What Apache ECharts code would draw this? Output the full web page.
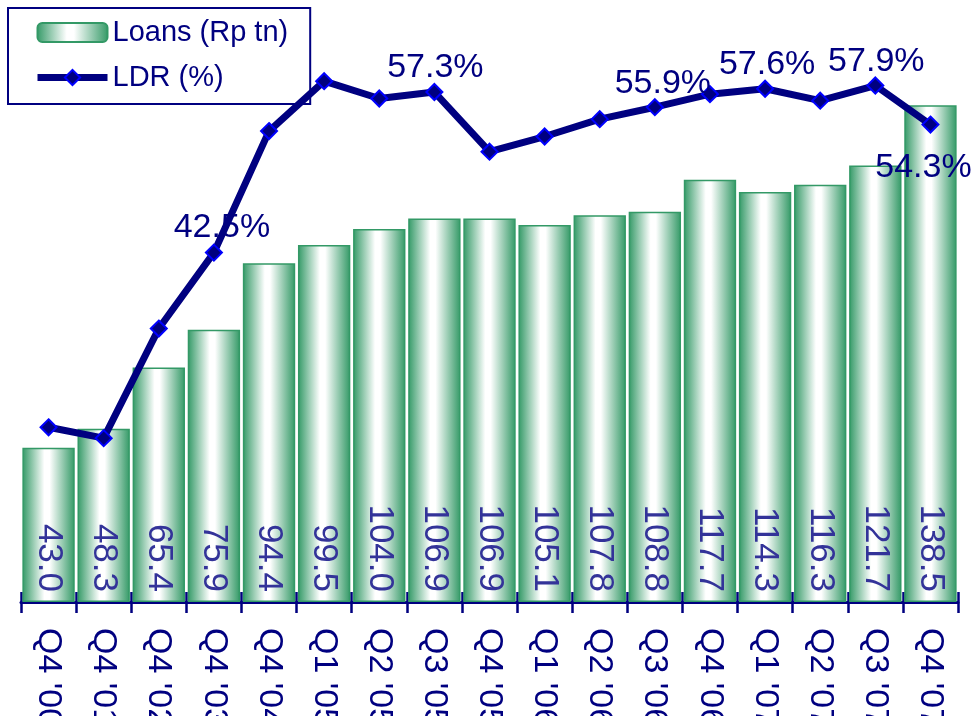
<!DOCTYPE html>
<html>
<head>
<meta charset="utf-8">
<script src="https://cdn.jsdelivr.net/npm/echarts@6/dist/echarts.min.js"></script>
<style>
  html, body { margin: 0; padding: 0; background: #fff; }
  #chart { width: 975px; height: 716px; }
</style>
</head>
<body>
<div id="chart"></div>
<script>
// Quarterly loans (Rp tn) and loan-to-deposit ratio (%)
const quarters = ["Q4 '00", "Q4 '01", "Q4 '02", "Q4 '03", "Q4 '04", "Q1 '05", "Q2 '05", "Q3 '05", "Q4 '05",
                  "Q1 '06", "Q2 '06", "Q3 '06", "Q4 '06", "Q1 '07", "Q2 '07", "Q3 '07", "Q4 '07"];
const loans = [43.0, 48.3, 65.4, 75.9, 94.4, 99.5, 104.0, 106.9, 106.9, 105.1, 107.8, 108.8, 117.7, 114.3, 116.3, 121.7, 138.5];
const ldr = [26.4, 25.4, 35.5, 42.5, 53.7, 58.3, 56.7, 57.3, 51.8, 53.2, 54.8, 55.9, 57.1, 57.6, 56.5, 57.9, 54.3];
// LDR points that carry a value label
const ldrLabelled = [3, 7, 11, 13, 15, 16];

const FONT = 'Liberation Sans';
const NAVY = '#000080';
const GREEN = '#339966';

// label placement for the LDR callouts
const ldrLabelStyle = {
  3:  { position: 'top', offset: [8, 5] },
  7:  { position: 'top', offset: [1, 6] },
  11: { position: 'top', offset: [8, 6] },
  13: { position: 'top', offset: [2, 6] },
  15: { position: 'top', offset: [1, 6] },
  16: { position: 'bottom', offset: [-7, 3] }
};

const barFill = {
  type: 'linear', x: 0, y: 0, x2: 1, y2: 0,
  colorStops: [
    { offset: 0, color: GREEN },
    { offset: 0.42, color: '#ffffff' },
    { offset: 0.52, color: '#ffffff' },
    { offset: 1, color: GREEN }
  ]
};

const ldrData = ldr.map((v, i) => {
  if (ldrLabelled.indexOf(i) < 0) return v;
  const s = ldrLabelStyle[i];
  return {
    value: v,
    label: {
      show: true,
      position: s.position,
      offset: s.offset,
      distance: s.position === 'top' ? 4 : 14
    }
  };
});

const chart = echarts.init(document.getElementById('chart'), null, { renderer: 'canvas' });

chart.setOption({
  animation: false,
  backgroundColor: '#ffffff',
  grid: { left: 21, right: 17, top: 28, bottom: 114, containLabel: false, outerBoundsMode: 'none' },
  legend: {
    orient: 'vertical',
    left: 8,
    top: 8,
    padding: [10, 22, 12, 26],
    itemWidth: 70,
    itemHeight: 19,
    itemGap: 16,
    borderColor: NAVY,
    borderWidth: 2,
    backgroundColor: '#ffffff',
    textStyle: { fontFamily: FONT, fontSize: 29, color: NAVY },
    data: [
      { name: 'Loans (Rp tn)' },
      { name: 'LDR (%)', lineStyle: { width: 7 } }
    ]
  },
  xAxis: [
    {
      type: 'category',
      data: quarters,
      position: 'bottom',
      axisLine: { lineStyle: { color: NAVY, width: 3 } },
      axisTick: { show: true, length: 11, lineStyle: { color: NAVY, width: 2.5 } },
      axisLabel: {
        rotate: -90,
        margin: 26,
        fontFamily: FONT,
        fontSize: 34,
        color: NAVY,
        interval: 0
      }
    },
    {
      type: 'category',
      data: quarters,
      position: 'bottom',
      axisLine: { show: false },
      axisTick: { show: true, inside: true, length: 10, lineStyle: { color: NAVY, width: 2.5 } },
      axisLabel: { show: false }
    }
  ],
  yAxis: [
    { type: 'value', min: 0, max: 160, show: false },
    { type: 'value', min: 10.3, max: 63.2, show: false }
  ],
  series: [
    {
      name: 'Loans (Rp tn)',
      type: 'bar',
      xAxisIndex: 0,
      yAxisIndex: 0,
      barCategoryGap: '5%',
      data: loans,
      itemStyle: { color: barFill, borderColor: GREEN, borderWidth: 1.5 },
      label: {
        show: true,
        position: 'insideBottom',
        rotate: -90,
        align: 'right',
        verticalAlign: 'middle',
        distance: 10,
        fontFamily: FONT,
        fontSize: 35,
        color: '#333399',
        formatter: p => p.value.toFixed(1)
      },
      z: 2
    },
    {
      name: 'LDR (%)',
      type: 'line',
      xAxisIndex: 0,
      yAxisIndex: 1,
      data: ldrData,
      symbol: 'diamond',
      symbolSize: 16,
      lineStyle: { color: NAVY, width: 7 },
      itemStyle: { color: NAVY, borderColor: '#0000ff', borderWidth: 2 },
      label: {
        show: false,
        fontFamily: FONT,
        fontSize: 34,
        color: NAVY,
        formatter: p => p.value.toFixed(1) + '%'
      },
      z: 5
    }
  ]
});
</script>
</body>
</html>
